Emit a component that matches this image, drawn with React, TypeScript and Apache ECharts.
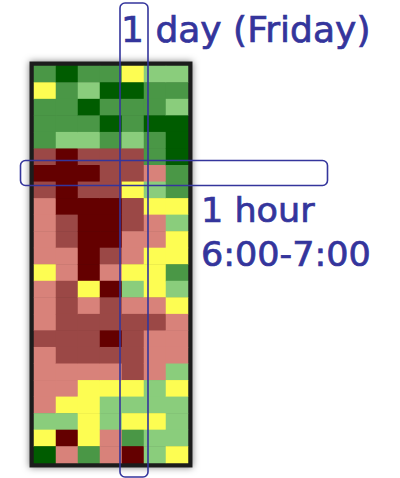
import React, { useEffect, useRef } from "react";
import * as echarts from "echarts";

// Level codes: 0 dark green, 1 green, 2 light green, 3 yellow, 4 pink, 5 red, 6 dark red
const days = ["Monday", "Tuesday", "Wednesday", "Thursday", "Friday", "Saturday", "Sunday"];
const hours = Array.from({ length: 24 }, (_, h) => `${h}:00-${h + 1}:00`);

const monday = [1, 3, 1, 1, 1, 5, 6, 5, 4, 4, 4, 4, 3, 4, 4, 4, 5, 4, 4, 4, 4, 2, 3, 0];
const tuesday = [0, 1, 1, 1, 2, 6, 6, 6, 6, 5, 5, 4, 4, 5, 5, 5, 5, 5, 4, 4, 3, 2, 6, 4];
const wednesday = [1, 2, 0, 1, 2, 5, 6, 5, 6, 6, 6, 6, 6, 3, 4, 5, 5, 5, 4, 3, 3, 3, 3, 1];
const thursday = [1, 0, 1, 0, 1, 5, 5, 5, 6, 6, 6, 5, 4, 6, 5, 5, 6, 5, 4, 3, 2, 2, 4, 4];
const friday = [3, 0, 1, 1, 2, 5, 5, 3, 5, 5, 4, 4, 3, 2, 4, 5, 5, 5, 5, 3, 2, 3, 1, 6];
const saturday = [2, 1, 1, 0, 1, 1, 4, 2, 3, 4, 4, 3, 3, 3, 4, 5, 4, 4, 4, 2, 2, 3, 2, 2];
const sunday = [2, 1, 2, 0, 0, 0, 1, 1, 3, 2, 3, 3, 1, 2, 3, 4, 4, 4, 2, 3, 2, 2, 2, 3];

const dayColumns = [monday, tuesday, wednesday, thursday, friday, saturday, sunday];
const levelColors = ["#005c00", "#4a9746", "#8acd7c", "#fdfd52", "#d8827a", "#9b4846", "#640000"];

const annotationDay = "1 day (Friday)";
const annotationHour1 = "1 hour";
const annotationHour2 = "6:00-7:00";

export default function App() {
  const ref = useRef<HTMLDivElement>(null);
  useEffect(() => {
    if (!ref.current) return;
    const chart = echarts.init(ref.current, null, { renderer: "svg" });
    const data: number[][] = [];
    dayColumns.forEach((col, d) => col.forEach((v, h) => data.push([d, h, v])));
    const blue = "#34359c";
    const textStyle = (text: string, size: number) => ({
      text,
      fill: blue,
      stroke: blue,
      lineWidth: 0.7,
      fontSize: size,
      fontFamily: "DejaVu Sans",
      align: "left",
      verticalAlign: "middle",
    });
    chart.setOption({
      animation: false,
      backgroundColor: "#ffffff",
      grid: { left: 34, top: 66, width: 154, height: 397 },
      xAxis: { type: "category", data: days, show: false },
      yAxis: { type: "category", data: hours, inverse: true, show: false },
      visualMap: {
        type: "piecewise",
        show: false,
        dimension: 2,
        pieces: levelColors.map((c, i) => ({ value: i, color: c })),
      },
      series: [
        {
          type: "heatmap",
          data,
          itemStyle: { borderWidth: 0 },
          emphasis: { disabled: true },
        },
      ],
      graphic: [
        {
          type: "rect",
          z: 0,
          shape: { x: 29.5, y: 61.5, width: 163, height: 406 },
          style: { fill: "#1e1e1e", shadowBlur: 7, shadowColor: "rgba(0,0,0,0.5)" },
        },
        {
          type: "rect",
          z: 100,
          shape: { x: 120, y: 3, width: 28, height: 474, r: 5 },
          style: { fill: "none", stroke: blue, lineWidth: 1.6 },
        },
        {
          type: "rect",
          z: 100,
          shape: { x: 20.5, y: 160.5, width: 307, height: 25, r: 5 },
          style: { fill: "none", stroke: blue, lineWidth: 1.6 },
        },
        {
          type: "text",
          z: 100,
          x: 121,
          y: 29.5,
          scaleX: 1.03,
          style: textStyle(annotationDay, 35),
        },
        {
          type: "text",
          z: 100,
          x: 201,
          y: 210,
          scaleX: 1.03,
          style: textStyle(annotationHour1, 34),
        },
        {
          type: "text",
          z: 100,
          x: 201,
          y: 254.5,
          scaleX: 1.03,
          style: textStyle(annotationHour2, 34),
        },
      ],
    });
    return () => chart.dispose();
  }, []);
  return (
    <div
      ref={ref}
      style={{ position: "absolute", left: 0, top: 0, width: 400, height: 478 }}
    />
  );
}
